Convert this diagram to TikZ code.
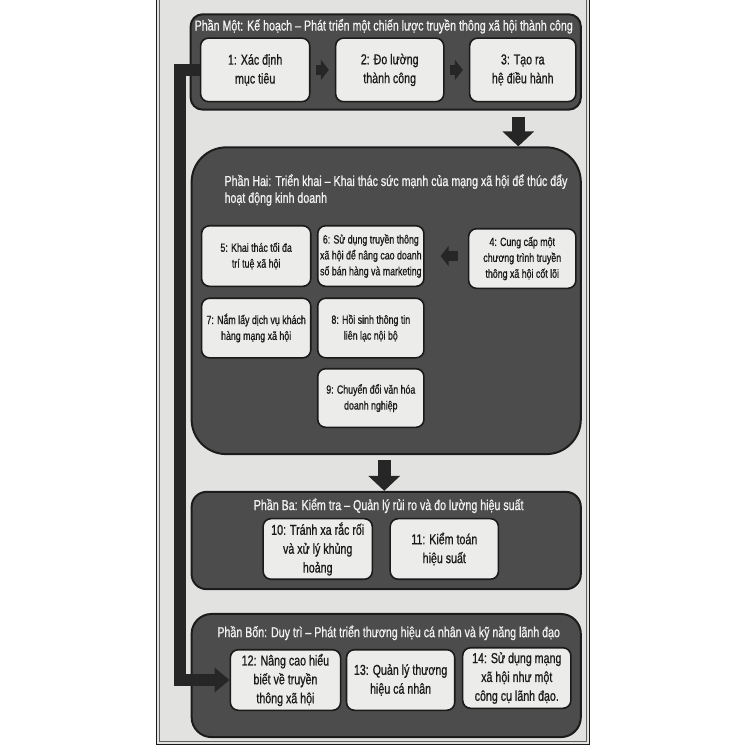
\documentclass[tikz,border=0pt]{standalone}
\usepackage{fontspec}
\setmainfont{Liberation Sans}[FakeStretch=0.74,FakeBold=0.8]
\usetikzlibrary{arrows.meta}
\definecolor{pagebg}{HTML}{E2E2E0}
\definecolor{panelfill}{HTML}{4C4C4C}
\definecolor{paneledge}{HTML}{1C1C1C}
\definecolor{boxfill}{HTML}{ECECEA}
\definecolor{ink}{HTML}{1A1A1A}
\definecolor{arrowink}{HTML}{262626}
\definecolor{titleink}{HTML}{F2F2F2}
\begin{document}
\begin{tikzpicture}[x=1pt,y=-1pt,
  panel/.style={draw=paneledge,line width=2pt,fill=panelfill,inner sep=0pt},
  stepbox/.style={draw=ink,line width=1.6pt,fill=boxfill,rounded corners=8pt,
    align=center,text=ink,inner sep=0pt,minimum width=109pt,minimum height=61pt},
  bigtxt/.style={font=\fontsize{14.5}{19}\selectfont},
  smalltxt/.style={font=\fontsize{12}{16}\selectfont},
  paneltitle/.style={text=titleink,inner sep=0pt,font=\fontsize{14.5}{17}\selectfont},
  bigarrow/.style={draw=arrowink,line width=13pt,-{Triangle[length=15pt,width=31pt]}},
  smallarrow/.style={draw=arrowink,line width=10pt,-{Triangle[length=8pt,width=20pt]}},
  leftbar/.style={draw=arrowink,line width=12pt,line join=miter,-{Triangle[length=15pt,width=24pt]}}
]
% background and page
\fill[white] (0,0) rectangle (750,750);
\fill[pagebg] (158,-5) rectangle (593,744);
\draw[ink,line width=0.8pt] (157.5,-5) -- (157.5,744.5) -- (593.5,744.5) -- (593.5,-5);
\draw[ink!70,line width=0.5pt] (160.5,-5) -- (160.5,741.5) -- (590.5,741.5) -- (590.5,-5);

% panels
\node[panel,rounded corners=12pt,minimum width=393pt,minimum height=96pt] (p1) at (388.5,57) {};
\node[panel,rounded corners=35pt,minimum width=392pt,minimum height=309pt] (p2) at (389,297.5) {};
\node[panel,rounded corners=15pt,minimum width=392pt,minimum height=98pt] (p3) at (389,539) {};
\node[panel,rounded corners=20pt,minimum width=392pt,minimum height=124pt] (p4) at (389,675) {};

% titles
\node[paneltitle] (t1) at (386.5,21) {Phần Một: Kế hoạch – Phát triển một chiến lược truyền thông xã hội thành công};
\node[paneltitle,anchor=north west,align=left] (t2) at (226,170) {Phần Hai: Triển khai – Khai thác sức mạnh của mạng xã hội để thúc đẩy\\hoạt động kinh doanh};
\node[paneltitle] (t3) at (391.5,504) {Phần Ba: Kiểm tra – Quản lý rủi ro và đo lường hiệu suất};
\node[paneltitle] (t4) at (391.5,632) {Phần Bốn: Duy trì – Phát triển thương hiệu cá nhân và kỹ năng lãnh đạo};

% panel one boxes
\node[stepbox,bigtxt,minimum width=110pt,minimum height=64pt] (b1) at (257,65) {1: Xác định\\mục tiêu};
\node[stepbox,bigtxt,minimum height=64pt] (b2) at (392.5,65) {2: Đo lường\\thành công};
\node[stepbox,bigtxt,minimum width=107pt,minimum height=64pt] (b3) at (526.5,65) {3: Tạo ra\\hệ điều hành};

% panel two boxes
\node[stepbox,smalltxt,minimum width=110pt] (b5) at (258,252.5) {5: Khai thác tối đa\\trí tuệ xã hội};
\node[stepbox,smalltxt,minimum width=107pt] (b6) at (373.5,252.5) {6: Sử dụng truyền thông\\xã hội để nâng cao doanh\\số bán hàng và marketing};
\node[stepbox,smalltxt,minimum width=108pt,minimum height=60pt] (b4) at (526,255) {4: Cung cấp một\\chương trình truyền\\thông xã hội cốt lõi};
\node[stepbox,smalltxt,minimum width=110pt,minimum height=60pt] (b7) at (258,325) {7: Nắm lấy dịch vụ khách\\hàng mạng xã hội};
\node[stepbox,smalltxt,minimum width=107pt,minimum height=60pt] (b8) at (373.5,325) {8: Hồi sinh thông tin\\liên lạc nội bộ};
\node[stepbox,smalltxt,minimum width=107pt,minimum height=59pt] (b9) at (373.5,395.5) {9: Chuyển đổi văn hóa\\doanh nghiệp};

% panel three boxes
\node[stepbox,bigtxt,minimum width=110pt] (b10) at (320,547.5) {10: Tránh xa rắc rối\\và xử lý khủng\\hoảng};
\node[stepbox,bigtxt] (b11) at (447.5,547.5) {11: Kiểm toán\\hiệu suất};

% panel four boxes
\node[stepbox,bigtxt,minimum width=111pt] (b12) at (287.5,679.5) {12: Nâng cao hiểu\\biết về truyền\\thông xã hội};
\node[stepbox,bigtxt] (b13) at (403.5,679.5) {13: Quản lý thương\\hiệu cá nhân};
\node[stepbox,bigtxt] (b14) at (520.5,677.5) {14: Sử dụng mạng\\xã hội như một\\công cụ lãnh đạo.};

% connectors
\coordinate (a1x) at (522,0);
\coordinate (a2x) at (387,0);
\coordinate (barx) at (181.5,400);
\draw[bigarrow,shorten <=6pt] (p1.south -| a1x) -- (p2.north -| a1x);
\draw[bigarrow,shorten <=5pt] (p2.south -| a2x) -- (p3.north -| a2x);
\draw[smallarrow,shorten <=5pt,shorten >=6pt] (b1.east) -- (b2.west);
\draw[smallarrow,shorten <=5pt,shorten >=6pt] (b2.east) -- (b3.west);
\draw[smallarrow,shorten <=10pt,shorten >=16pt] (b4.west |- b6.east) -- (b6.east);
\draw[leftbar] (b1.west) -| (barx) |- (b12.west);
\end{tikzpicture}
\end{document}
